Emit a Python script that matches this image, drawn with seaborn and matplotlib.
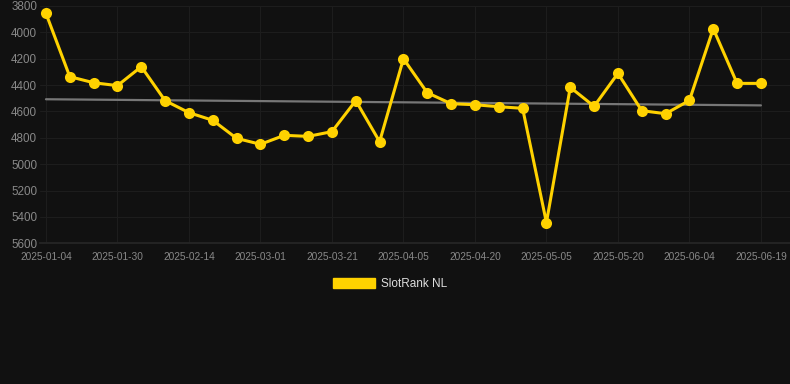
import matplotlib

matplotlib.use("Agg")
import matplotlib.pyplot as plt
import numpy as np
import pandas as pd
import seaborn as sns
from matplotlib.patches import Patch

# Rank per snapshot date (lower on screen = worse rank)
dates = [
    "2025-01-04", "2025-01-13", "2025-01-21", "2025-01-30", "2025-02-04",
    "2025-02-09", "2025-02-14", "2025-02-19", "2025-02-24", "2025-03-01",
    "2025-03-08", "2025-03-14", "2025-03-21", "2025-03-26", "2025-03-31",
    "2025-04-05", "2025-04-10", "2025-04-15", "2025-04-20", "2025-04-25",
    "2025-04-30", "2025-05-05", "2025-05-10", "2025-05-15", "2025-05-20",
    "2025-05-25", "2025-05-30", "2025-06-04", "2025-06-09", "2025-06-14",
    "2025-06-19",
]
ranks = [
    3856, 4336, 4382, 4404, 4260, 4518, 4609, 4667, 4804, 4849,
    4781, 4789, 4753, 4518, 4829, 4200, 4458, 4541, 4549, 4564,
    4576, 5443, 4417, 4561, 4311, 4594, 4617, 4516, 3972, 4387,
    4387,
]
y_ticks = [3800, 4000, 4200, 4400, 4600, 4800, 5000, 5200, 5400, 5600]
series_name = "SlotRank NL"

BG = "#111111"
GOLD = "#FFD200"

df = pd.DataFrame({"date": dates, "rank": ranks})
df["pos"] = np.arange(len(df))

sns.set_theme(style="dark")
plt.rcParams["font.family"] = ["Liberation Sans", "DejaVu Sans"]

fig = plt.figure(figsize=(7.9, 3.84), dpi=100, facecolor=BG)
ax = fig.add_axes([40 / 790, 1 - 243.3 / 384, 750 / 790, (243.3 - 6) / 384])
ax.set_facecolor(BG)

# linear trend of the series
sns.regplot(
    data=df, x="pos", y="rank", ax=ax, scatter=False, ci=None,
    line_kws={"color": "#777777", "linewidth": 1.6, "zorder": 2},
)
sns.lineplot(
    data=df, x="pos", y="rank", ax=ax, color=GOLD, linewidth=2.2,
    marker="o", markersize=8, markeredgewidth=0, zorder=3,
)

ax.set_xlim(-0.25, 31.22)
ax.set_ylim(5600, 3800)
ax.set_yticks(y_ticks)
ax.set_yticklabels([str(v) for v in y_ticks])
tick_pos = df["pos"].values[::3]
ax.set_xticks(tick_pos)
ax.set_xticklabels(df["date"].values[::3])

ax.grid(True, color="#1d1d1d", linewidth=0.8)
ax.tick_params(axis="y", colors="#888888", labelsize=8.4, length=0, pad=2)
ax.tick_params(axis="x", colors="#888888", labelsize=7.3, length=0, pad=6)
for spine in ax.spines.values():
    spine.set_visible(False)
ax.spines["bottom"].set_visible(True)
ax.spines["bottom"].set_color("#262626")
ax.set_xlabel("")
ax.set_ylabel("")

handle = Patch(facecolor=GOLD, edgecolor=GOLD, label=series_name)
fig.legend(
    handles=[handle], loc="center", bbox_to_anchor=(390 / 790, 1 - 284 / 384),
    frameon=False, fontsize=8.5, labelcolor="#dddddd",
    handlelength=3.6, handleheight=0.9, handletextpad=0.5,
)

fig.savefig("out.png", dpi=100, facecolor=BG)
